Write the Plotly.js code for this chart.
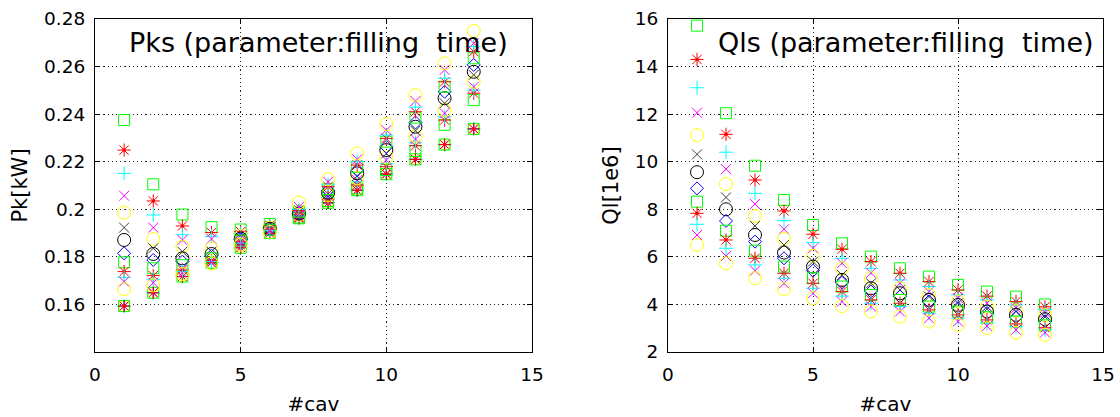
<!DOCTYPE html>
<html><head><meta charset="utf-8">
<script src="https://cdn.plot.ly/plotly-3.0.1.min.js"></script>
<style>html,body{margin:0;padding:0;background:#fff}#chart{width:1120px;height:417px}</style>
</head><body><div id="chart"></div>
<script>
// ---------- data ----------
const cav = [1, 2, 3, 4, 5, 6, 7, 8, 9, 10, 11, 12, 13];

// Pk [kW] per filling-time parameter (13 series)
const pkS1  = [0.2375, 0.2105, 0.1978, 0.1925, 0.1915, 0.1938, 0.1965, 0.2035, 0.2088, 0.2165, 0.2245, 0.2355, 0.2459];
const pkS2  = [0.2249, 0.2035, 0.1930, 0.1902, 0.1906, 0.1932, 0.1968, 0.2043, 0.2102, 0.2179, 0.2267, 0.2375, 0.2488];
const pkS3  = [0.2151, 0.1976, 0.1893, 0.1887, 0.1898, 0.1928, 0.1972, 0.2050, 0.2116, 0.2193, 0.2280, 0.2389, 0.2501];
const pkS4  = [0.2057, 0.1923, 0.1871, 0.1875, 0.1892, 0.1925, 0.1975, 0.2055, 0.2123, 0.2207, 0.2295, 0.2404, 0.2515];
const pkS5  = [0.1986, 0.1875, 0.1843, 0.1835, 0.1887, 0.1922, 0.1978, 0.2060, 0.2130, 0.2218, 0.2308, 0.2417, 0.2536];
const pkS6  = [0.1923, 0.1836, 0.1822, 0.1822, 0.1880, 0.1920, 0.1980, 0.2065, 0.2140, 0.2235, 0.2330, 0.2446, 0.2565];
const pkS7  = [0.1871, 0.1812, 0.1794, 0.1812, 0.1877, 0.1918, 0.1982, 0.2070, 0.2151, 0.2249, 0.2347, 0.2467, 0.2578];
const pkS8  = [0.1815, 0.1787, 0.1780, 0.1805, 0.1873, 0.1916, 0.1985, 0.2078, 0.2165, 0.2263, 0.2365, 0.2494, 0.2607];
const pkS9  = [0.1777, 0.1752, 0.1765, 0.1794, 0.1868, 0.1914, 0.1990, 0.2085, 0.2179, 0.2284, 0.2385, 0.2515, 0.2635];
const pkS10 = [0.1738, 0.1721, 0.1745, 0.1784, 0.1863, 0.1912, 0.1995, 0.2095, 0.2186, 0.2298, 0.2410, 0.2536, 0.2663];
const pkS11 = [0.1714, 0.1706, 0.1738, 0.1780, 0.1858, 0.1910, 0.2000, 0.2105, 0.2200, 0.2312, 0.2430, 0.2551, 0.2684];
const pkS12 = [0.1696, 0.1691, 0.1733, 0.1777, 0.1855, 0.1908, 0.2010, 0.2116, 0.2210, 0.2333, 0.2455, 0.2586, 0.2698];
const pkS13 = [0.1664, 0.1680, 0.1728, 0.1773, 0.1852, 0.1905, 0.2029, 0.2127, 0.2235, 0.2358, 0.2480, 0.2614, 0.2750];
const pkOpt = [0.1593, 0.1649, 0.1717, 0.1775, 0.1838, 0.1900, 0.1962, 0.2027, 0.2080, 0.2148, 0.2210, 0.2272, 0.2338];

// Ql [1e6] per filling-time parameter (13 series)
const qlS1  = [15.72, 12.04, 9.83, 8.39, 7.34, 6.57, 6.01, 5.52, 5.17, 4.82, 4.54, 4.33, 4.00];
const qlS2  = [14.30, 11.15, 9.23, 7.93, 6.95, 6.32, 5.80, 5.31, 4.96, 4.61, 4.35, 4.12, 3.90];
const qlS3  = [13.11, 10.40, 8.67, 7.52, 6.60, 5.94, 5.52, 5.03, 4.75, 4.40, 4.19, 3.98, 3.78];
const qlS4  = [12.06, 9.69, 8.22, 7.16, 6.36, 5.73, 5.33, 4.89, 4.54, 4.26, 4.05, 3.84, 3.66];
const qlS5  = [11.12, 9.06, 7.72, 6.76, 6.04, 5.52, 5.10, 4.68, 4.40, 4.12, 3.91, 3.74, 3.55];
const qlS6  = [10.31, 8.50, 7.30, 6.50, 5.80, 5.24, 4.89, 4.61, 4.33, 4.05, 3.80, 3.70, 3.47];
const qlS7  = [9.56, 8.00, 6.92, 6.18, 5.59, 5.03, 4.68, 4.47, 4.19, 3.98, 3.70, 3.56, 3.38];
const qlS8  = [8.88, 7.51, 6.64, 5.94, 5.42, 4.91, 4.54, 4.33, 4.12, 3.84, 3.63, 3.46, 3.28];
const qlS9  = [8.32, 7.10, 6.26, 5.59, 5.10, 4.75, 4.40, 4.19, 3.91, 3.70, 3.46, 3.28, 3.12];
const qlS10 = [7.83, 6.71, 5.94, 5.31, 4.89, 4.54, 4.19, 4.05, 3.77, 3.56, 3.35, 3.18, 3.02];
const qlS11 = [7.37, 6.36, 5.66, 5.10, 4.68, 4.35, 4.05, 3.91, 3.63, 3.42, 3.21, 3.06, 2.93];
const qlS12 = [6.92, 6.04, 5.42, 4.89, 4.47, 4.12, 3.91, 3.70, 3.42, 3.28, 3.09, 2.93, 2.82];
const qlS13 = [6.50, 5.73, 5.10, 4.64, 4.26, 3.93, 3.70, 3.49, 3.28, 3.14, 3.00, 2.81, 2.72];

const xTicks = [0, 5, 10, 15];
const pkTicks = [0.16, 0.18, 0.20, 0.22, 0.24, 0.26, 0.28];
const pkTickText = ['0.16', '0.18', '0.2', '0.22', '0.24', '0.26', '0.28'];
const qlTicks = [2, 4, 6, 8, 10, 12, 14, 16];
const pkTitle = 'Pks (parameter:filling\u00a0 time)';
const qlTitle = 'Qls (parameter:filling\u00a0 time)';

// ---------- styles ----------
const styleList = [
  {symbol: 'square-open',     color: '#00ff00', size: 11},
  {symbol: 'asterisk-open',   color: '#ff0000', size: 11, dot: true},
  {symbol: 'cross-thin-open', color: '#00ffff', size: 10},
  {symbol: 'x-thin-open',     color: '#ff00ff', size: 10},
  {symbol: 'circle-open',     color: '#ffff00', size: 13},
  {symbol: 'x-thin-open',     color: '#404040', size: 10},
  {symbol: 'circle-open',     color: '#000000', size: 13},
  {symbol: 'diamond-open',    color: '#0000ff', size: 10},
  {symbol: 'square-open',     color: '#00ff00', size: 11},
  {symbol: 'asterisk-open',   color: '#ff0000', size: 11, dot: true},
  {symbol: 'cross-thin-open', color: '#00ffff', size: 10},
  {symbol: 'x-thin-open',     color: '#ff00ff', size: 10},
  {symbol: 'circle-open',     color: '#ffff00', size: 13}
];
const optStyles = [
  {symbol: 'circle-open',     color: '#ffff00', size: 11},
  {symbol: 'x-thin-open',     color: '#ff00ff', size: 9},
  {symbol: 'cross-thin-open', color: '#00ffff', size: 10},
  {symbol: 'square-open',     color: '#00ff00', size: 11},
  {symbol: 'cross-thin-open', color: '#0000ff', size: 8},
  {symbol: 'asterisk-open',   color: '#ff0000', size: 10, dot: true}
];

const pkSeries = [pkS1, pkS2, pkS3, pkS4, pkS5, pkS6, pkS7, pkS8, pkS9, pkS10, pkS11, pkS12, pkS13];
const qlSeries = [qlS1, qlS2, qlS3, qlS4, qlS5, qlS6, qlS7, qlS8, qlS9, qlS10, qlS11, qlS12, qlS13];

function mk(y, st, xa, ya) {
  const out = [{
    x: cav, y: y, xaxis: xa, yaxis: ya, type: 'scatter', mode: 'markers',
    hoverinfo: 'x+y', showlegend: false,
    marker: {symbol: st.symbol, size: st.size, color: st.color,
             line: {color: st.color, width: 1}}
  }];
  if (st.dot) {
    out.push({
      x: cav, y: y, xaxis: xa, yaxis: ya, type: 'scatter', mode: 'markers',
      hoverinfo: 'skip', showlegend: false,
      marker: {symbol: 'circle', size: 3.5, color: st.color, line: {width: 0}}
    });
  }
  return out;
}

let traces = [];
optStyles.forEach(st => { traces = traces.concat(mk(pkOpt, st, 'x', 'y')); });
pkSeries.forEach((s, i) => { traces = traces.concat(mk(s, styleList[i], 'x', 'y')); });
qlSeries.forEach((s, i) => { traces = traces.concat(mk(s, styleList[i], 'x2', 'y2')); });

const fontFam = 'DejaVu Sans, sans-serif';
const axCommon = {
  showline: true, linecolor: '#000', linewidth: 1, mirror: 'ticks',
  ticks: 'inside', ticklen: 5, tickcolor: '#000', tickwidth: 1,
  showgrid: true, gridcolor: '#222', griddash: '1.2px,3px', gridwidth: 1,
  zeroline: false, tickfont: {family: fontFam, size: 18.5, color: '#000'},
  automargin: false
};

const layout = {
  width: 1120, height: 417,
  margin: {l: 0, r: 0, t: 19, b: 65},
  paper_bgcolor: '#fff', plot_bgcolor: '#fff',
  font: {family: fontFam, color: '#000'},
  xaxis: Object.assign({}, axCommon, {
    domain: [95 / 1120, 532 / 1120], range: [0, 15], anchor: 'y',
    tickvals: xTicks, ticklabelstandoff: 6,
    title: {text: '#cav', font: {family: fontFam, size: 20}, standoff: 12}
  }),
  yaxis: Object.assign({}, axCommon, {
    domain: [0, 1], range: [0.14, 0.28], anchor: 'x',
    tickvals: pkTicks, ticktext: pkTickText, ticklabelstandoff: 5,
    title: {text: 'Pk[kW]', font: {family: fontFam, size: 21}, standoff: 10}
  }),
  xaxis2: Object.assign({}, axCommon, {
    domain: [668 / 1120, 1103 / 1120], range: [0, 15], anchor: 'y2',
    tickvals: xTicks, ticklabelstandoff: 6,
    title: {text: '#cav', font: {family: fontFam, size: 20}, standoff: 12}
  }),
  yaxis2: Object.assign({}, axCommon, {
    domain: [0, 1], range: [2, 16], anchor: 'x2',
    tickvals: qlTicks, ticklabelstandoff: 5,
    title: {text: 'Ql[1e6]', font: {family: fontFam, size: 21}, standoff: 10}
  }),
  annotations: [
    {text: pkTitle, xref: 'paper', yref: 'paper', x: 318.6 / 1120, y: 1 - (42 - 19) / 333,
     xanchor: 'center', yanchor: 'middle', showarrow: false,
     font: {family: fontFam, size: 27, color: '#000'}},
    {text: qlTitle, xref: 'paper', yref: 'paper', x: 905.5 / 1120, y: 1 - (42 - 19) / 333,
     xanchor: 'center', yanchor: 'middle', showarrow: false,
     font: {family: fontFam, size: 27, color: '#000'}}
  ]
};

Plotly.newPlot('chart', traces, layout, {staticPlot: true, displayModeBar: false});
</script>
</body></html>
